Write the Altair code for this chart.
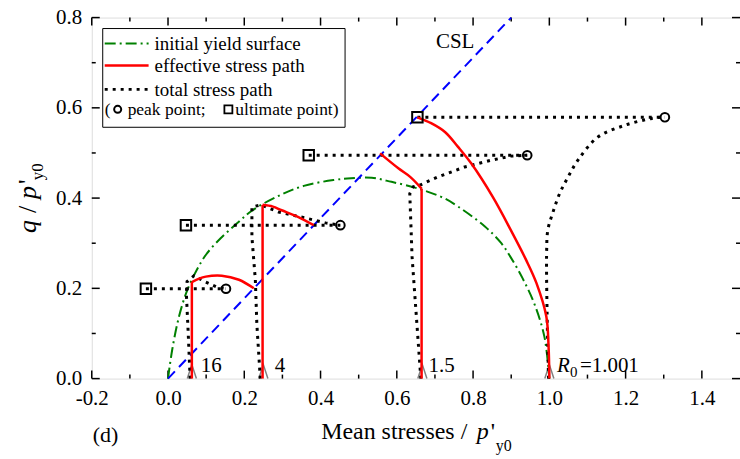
import altair as alt
import pandas as pd

FONT = "Liberation Serif"
W, H = 650, 362

# ---------------- data ----------------
# initial yield surface (green dash-dot)
ys_p = [0.0, 0.011, 0.029, 0.05, 0.075, 0.10, 0.138, 0.181, 0.22, 0.29, 0.356, 0.434, 0.48,
        0.534, 0.586, 0.656, 0.726, 0.761, 0.831, 0.874, 0.90, 0.93, 0.961, 0.987, 1.0]
ys_q = [0.0, 0.064, 0.138, 0.195, 0.24, 0.275, 0.311, 0.344, 0.372, 0.405, 0.427, 0.440, 0.444,
        0.445, 0.436, 0.421, 0.399, 0.381, 0.337, 0.300, 0.267, 0.222, 0.165, 0.093, 0.0]

# critical state line
csl_p = [0.0, 0.9]
csl_q = [0.0, 0.8]

# effective stress paths (red)
eff16_p = [0.0625, 0.0625, 0.08, 0.099, 0.141, 0.186, 0.225]
eff16_q = [0.0, 0.214, 0.221, 0.226, 0.228, 0.219, 0.200]
eff4_p = [0.248, 0.248, 0.275, 0.298, 0.342, 0.382]
eff4_q = [0.0, 0.385, 0.381, 0.373, 0.358, 0.340]
eff15_p = [0.665, 0.665, 0.635, 0.604, 0.556]
eff15_q = [0.0, 0.421, 0.447, 0.466, 0.499]
eff1_p = [1.0, 0.998, 0.992, 0.966, 0.939, 0.899, 0.852, 0.795, 0.76, 0.727, 0.69, 0.654]
eff1_q = [0.0, 0.07, 0.138, 0.212, 0.263, 0.329, 0.402, 0.477, 0.514, 0.546, 0.566, 0.579]

# total stress paths (black dotted)
tot16_p = [0.058, 0.053, 0.048, 0.050, 0.068, 0.099, 0.128, 0.152]
tot16_q = [0.0, 0.10, 0.19, 0.215, 0.228, 0.214, 0.203, 0.199]
tot4_p = [0.242, 0.233, 0.229, 0.220, 0.220, 0.243, 0.29, 0.36, 0.413, 0.452]
tot4_q = [0.0, 0.12, 0.219, 0.314, 0.38, 0.385, 0.369, 0.356, 0.345, 0.340]
tot15_p = [0.663, 0.651, 0.640, 0.634, 0.643, 0.661, 0.708, 0.778, 0.848, 0.90, 0.942]
tot15_q = [0.0, 0.141, 0.27, 0.410, 0.425, 0.429, 0.447, 0.469, 0.484, 0.493, 0.495]
tot1_p = [0.998, 0.994, 0.993, 0.996, 1.01, 1.027, 1.048, 1.075, 1.127, 1.197, 1.266, 1.303]
tot1_q = [0.0, 0.15, 0.285, 0.329, 0.37, 0.410, 0.445, 0.484, 0.535, 0.561, 0.576, 0.580]

# ultimate (square) and peak (circle) points
ult_p = [-0.058, 0.047, 0.369, 0.654]
ult_q = [0.199, 0.340, 0.495, 0.579]
peak_p = [0.152, 0.452, 0.942, 1.303]
peak_q = [0.199, 0.340, 0.495, 0.579]

# initial states (arrows) and R0 labels
p0 = [0.0625, 0.25, 0.667, 1.0]
lbl_text = ["16", "4", "1.5"]
lbl_p = [0.086, 0.280, 0.683]
r0_p = 1.020

# axis ticks
x_major = [-0.2, 0.0, 0.2, 0.4, 0.6, 0.8, 1.0, 1.2, 1.4]
x_minor = [-0.1, 0.1, 0.3, 0.5, 0.7, 0.9, 1.1, 1.3]
y_major = [0.0, 0.2, 0.4, 0.6, 0.8]
y_minor = [0.1, 0.3, 0.5, 0.7]

# ---------------- helpers ----------------
xs = alt.Scale(domain=[-0.2, 1.5], nice=False, zero=False)
yscale = alt.Scale(domain=[0, 0.8], nice=False)
xaxis = alt.Axis(values=x_major, title=None, domain=False, ticks=False, tickSize=0, grid=False,
                 labelFont=FONT, labelFontSize=21, labelColor="black", labelPadding=9,
                 labelFlush=False, labelOverlap=False,
                 labelExpr="datum.value < 0 ? '-' + format(-datum.value, '.1f') : format(datum.value, '.1f')")
yaxis = alt.Axis(values=y_major, title=None, domain=False, ticks=False, tickSize=0, grid=False,
                 labelFont=FONT, labelFontSize=21, labelColor="black", labelPadding=10,
                 labelFlush=False, labelOverlap=False, format=".1f")


def X(f="p"):
    return alt.X(f, type="quantitative", scale=xs, axis=xaxis)


def Y(f="q"):
    return alt.Y(f, type="quantitative", scale=yscale, axis=yaxis)


def long_df(series):
    rows = []
    for name, (ps, qs) in series.items():
        for i, (p, q) in enumerate(zip(ps, qs)):
            rows.append({"test": name, "i": i, "p": p, "q": q})
    return pd.DataFrame(rows)


# ---------------- layers ----------------
arrows = alt.Chart(pd.DataFrame({"p": p0, "q": [0.0] * 4})).mark_point(
    shape="M -0.65 1 L 0 -1 L 0.65 1", filled=False, stroke="#808080", strokeWidth=1.5,
    size=196, yOffset=-7, opacity=1
).encode(x=X(), y=Y())

yield_line = alt.Chart(pd.DataFrame({"p": ys_p, "q": ys_q, "i": range(len(ys_p))})).mark_line(
    color="#008000", strokeWidth=2, strokeDash=[11, 4, 2, 4], interpolate="catmull-rom"
).encode(x=X(), y=Y(), order="i:Q")

csl_line = alt.Chart(pd.DataFrame({"p": csl_p, "q": csl_q})).mark_line(
    color="#0000ff", strokeWidth=2, strokeDash=[10, 6]
).encode(x=X(), y=Y())

tot_df = long_df({"16": (tot16_p, tot16_q), "4": (tot4_p, tot4_q),
                  "1.5": (tot15_p, tot15_q)})
tot_line = alt.Chart(tot_df).mark_line(
    color="black", strokeWidth=3, strokeDash=[3, 5]
).encode(x=X(), y=Y(), detail="test:N", order="i:Q")
tot1_line = alt.Chart(long_df({"1.001": (tot1_p, tot1_q)})).mark_line(
    color="black", strokeWidth=3, strokeDash=[3, 5], interpolate="catmull-rom"
).encode(x=X(), y=Y(), detail="test:N", order="i:Q")

hz_df = pd.DataFrame({"p": ult_p, "p2": peak_p, "q": ult_q})
hz_line = alt.Chart(hz_df).mark_rule(color="black", strokeWidth=3, strokeDash=[3, 5]).encode(
    x=X(), x2="p2:Q", y=Y())

# red paths: straight undrained rise + smooth curve, split at the corner
eff_df = long_df({
    "16v": (eff16_p[:2], eff16_q[:2]), "16c": (eff16_p[1:], eff16_q[1:]),
    "4v": (eff4_p[:2], eff4_q[:2]), "4c": (eff4_p[1:], eff4_q[1:]),
    "1.5v": (eff15_p[:2], eff15_q[:2]), "1.5c": (eff15_p[1:], eff15_q[1:]),
    "1.001": (eff1_p, eff1_q),
})
eff_line = alt.Chart(eff_df).mark_line(
    color="#ff0000", strokeWidth=2.5, interpolate="catmull-rom"
).encode(x=X(), y=Y(), detail="test:N", order="i:Q")

sq = alt.Chart(pd.DataFrame({"p": ult_p, "q": ult_q})).mark_point(
    shape="square", filled=False, stroke="black", strokeWidth=2, size=110, opacity=1
).encode(x=X(), y=Y())
ci = alt.Chart(pd.DataFrame({"p": peak_p, "q": peak_q})).mark_point(
    shape="circle", filled=False, stroke="black", strokeWidth=2, size=75, opacity=1
).encode(x=X(), y=Y())

# R0 labels near arrows
lbl = alt.Chart(pd.DataFrame({"p": lbl_p, "q": [0.0155] * 3, "t": lbl_text})).mark_text(
    font=FONT, fontSize=21, align="left", baseline="alphabetic", color="black"
).encode(x=X(), y=Y(), text="t:N")
r_df = pd.DataFrame({"p": [r0_p], "q": [0.0155]})
r_lbl = alt.Chart(r_df).mark_text(font=FONT, fontSize=21, fontStyle="italic", align="left",
                                  baseline="alphabetic", color="black", text="R").encode(x=X(), y=Y())
r_sub = alt.Chart(r_df).mark_text(font=FONT, fontSize=15, align="left", baseline="alphabetic",
                                  color="black", text="0", dx=13, dy=5).encode(x=X(), y=Y())
r_val = alt.Chart(r_df).mark_text(font=FONT, fontSize=21, align="left", baseline="alphabetic",
                                  color="black", text="=1.001", dx=23).encode(x=X(), y=Y())
csl_lbl = alt.Chart(pd.DataFrame({"p": [0.753], "q": [0.745]})).mark_text(
    font=FONT, fontSize=21, align="center", baseline="middle", color="black", text="CSL"
).encode(x=X(), y=Y())


# inward ticks
def xticks(vals, ln):
    d = pd.DataFrame({"p": vals})
    bot = alt.Chart(d).mark_rule(color="black", strokeWidth=1.5).encode(
        x=X(), y=alt.value(H), y2=alt.value(H - ln))
    top = alt.Chart(d).mark_rule(color="black", strokeWidth=1.5).encode(
        x=X(), y=alt.value(0), y2=alt.value(ln))
    return [bot, top]


def yticks(vals, ln):
    d = pd.DataFrame({"q": vals})
    lef = alt.Chart(d).mark_rule(color="black", strokeWidth=1.5).encode(
        y=Y(), x=alt.value(0), x2=alt.value(ln))
    rig = alt.Chart(d).mark_rule(color="black", strokeWidth=1.5).encode(
        y=Y(), x=alt.value(W), x2=alt.value(W - ln))
    return [lef, rig]


ticks = xticks(x_major, 8) + xticks(x_minor, 4) + yticks(y_major, 8) + yticks(y_minor, 4)

# legend (drawn in pixel space)
one = pd.DataFrame({"a": [0]})
leg_box = alt.Chart(one).mark_rect(fill="white", stroke="black", strokeWidth=1).encode(
    x=alt.value(11), x2=alt.value(254), y=alt.value(11), y2=alt.value(110))
leg_g = alt.Chart(one).mark_rule(color="#008000", strokeWidth=2, strokeDash=[11, 4, 2, 4]).encode(
    x=alt.value(13), x2=alt.value(57), y=alt.value(26))
leg_r = alt.Chart(one).mark_rule(color="#ff0000", strokeWidth=2.5).encode(
    x=alt.value(13), x2=alt.value(57), y=alt.value(48))
leg_k = alt.Chart(one).mark_rule(color="black", strokeWidth=3, strokeDash=[3, 5]).encode(
    x=alt.value(13), x2=alt.value(57), y=alt.value(72))


def ptext(txt, x, y, size=19, style="normal", angle=0, align="left", baseline="middle"):
    kw = dict(font=FONT, fontSize=size, fontStyle=style, align=align, baseline=baseline,
              color="black", text=txt)
    if angle:
        kw["angle"] = angle
    return alt.Chart(one).mark_text(**kw).encode(x=alt.value(x), y=alt.value(y))


leg_t = [ptext("initial yield surface", 63, 27), ptext("effective stress path", 63, 49),
         ptext("total stress path", 63, 73),
         ptext("(", 13, 93, 17.5), ptext("peak point;", 36, 93, 17.5),
         ptext("ultimate point)", 144, 93, 17.5)]
leg_ci = alt.Chart(one).mark_point(shape="circle", filled=False, stroke="black", strokeWidth=2,
                                   size=50, opacity=1).encode(x=alt.value(26), y=alt.value(92))
leg_sq = alt.Chart(one).mark_point(shape="square", filled=False, stroke="black", strokeWidth=1.8,
                                   size=64, opacity=1).encode(x=alt.value(137), y=alt.value(92))

# axis titles (composed so p'y0 can carry italics and subscript)
titles = [
    ptext("Mean stresses /", 230, 423, 24, baseline="alphabetic"),
    ptext("p", 386, 423, 24, "italic", baseline="alphabetic"),
    ptext("'", 400, 423, 24, baseline="alphabetic"),
    ptext("y0", 405, 435, 16, baseline="alphabetic"),
    ptext("q", -56, 216, 26, "italic", angle=270, baseline="alphabetic"),
    ptext("/", -56, 196, 26, angle=270, baseline="alphabetic"),
    ptext("p", -56, 182, 26, "italic", angle=270, baseline="alphabetic"),
    ptext("'", -56, 167, 26, angle=270, baseline="alphabetic"),
    ptext("y0", -49, 163, 17, angle=270, baseline="alphabetic"),
    ptext("(d)", 1, 426, 22, baseline="alphabetic"),
]

chart = alt.layer(
    *ticks, arrows, yield_line, csl_line, tot_line, tot1_line, hz_line, eff_line, sq, ci,
    lbl, r_lbl, r_sub, r_val, csl_lbl,
    leg_box, leg_g, leg_r, leg_k, *leg_t, leg_ci, leg_sq, *titles
).properties(
    width=W, height=H,
    autosize=alt.AutoSizeParams(type="none"),
    padding={"left": 92, "top": 17, "right": 0, "bottom": 80},
).configure_view(stroke="black", strokeWidth=2).configure(background="white")

chart.save("out.html", embed_options={"renderer": "svg", "actions": False})
